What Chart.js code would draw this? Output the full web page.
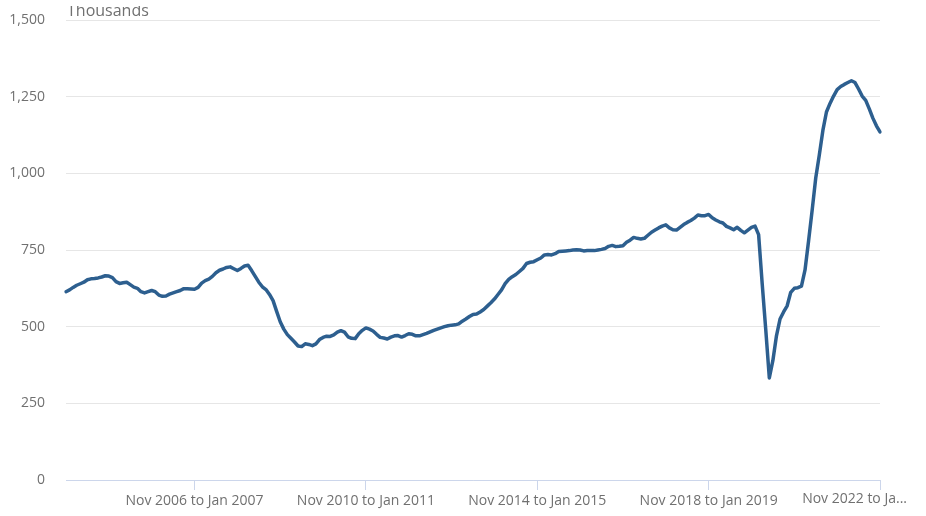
<!DOCTYPE html>
<html>
<head>
<meta charset="utf-8">
<script src="https://cdn.jsdelivr.net/npm/chart.js@4.4.1/dist/chart.umd.min.js"></script>
<style>
  body { margin: 0; background: #fff; }
  #wrap { width: 926px; height: 516px; position: relative; }
</style>
</head>
<body>
<div id="wrap"><canvas id="myChart"></canvas></div>
<script>
'use strict';
// ---------- Data ------------- //
const monthNames = ['Jan', 'Feb', 'Mar', 'Apr', 'May', 'Jun', 'Jul', 'Aug', 'Sep', 'Oct', 'Nov', 'Dec'];
const firstMonth = 10;   // Nov
const firstYear = 2003;
const pointCount = 229;  // Nov 2003 to Jan 2004 ... Nov 2022 to Jan 2023

// vacancies, thousands
const vacancies = [
  614, 620, 628, 635, 640, 645, 653, 656, 657, 659, 662, 666,
  665, 660, 647, 641, 643, 645, 637, 629, 625, 614, 610, 614,
  618, 614, 603, 599, 600, 606, 610, 614, 618, 624, 624, 623,
  622, 628, 642, 650, 655, 664, 676, 684, 688, 693, 695, 689,
  683, 690, 698, 700, 683, 664, 645, 630, 621, 605, 585, 550,
  516, 492, 474, 462, 450, 437, 435, 444, 442, 438, 444, 458,
  465, 469, 468, 473, 482, 487, 482, 467, 462, 461, 477, 488,
  496, 492, 486, 475, 465, 463, 460, 466, 470, 471, 466, 471,
  477, 475, 470, 470, 474, 478, 483, 488, 492, 496, 500, 503,
  505, 506, 509, 518, 525, 533, 540, 541, 548, 556, 567, 578,
  590, 605, 620, 640, 654, 663, 670, 680, 690, 706, 710, 712,
  718, 724, 734, 735, 734, 738, 745, 746, 747, 748, 750, 751,
  750, 747, 748, 748, 748, 750, 752, 755, 762, 765, 761, 762,
  764, 775, 782, 791, 788, 786, 788, 798, 808, 815, 822, 828,
  832, 822, 816, 815, 824, 833, 840, 846, 854, 864, 862, 862,
  866, 855, 848, 842, 838, 827, 822, 816, 824, 814, 806, 815,
  824, 828, 800, 640, 490, 333, 390, 470, 525, 548, 568, 612,
  625, 627, 632, 685, 780, 880, 985, 1060, 1140, 1200, 1228, 1252,
  1273, 1283, 1290, 1296, 1302, 1296, 1275, 1252, 1238, 1210, 1180, 1155,
  1135
];

const yTicks = [0, 250, 500, 750, 1000, 1250, 1500];
const labelEvery = 48;
const firstLabelIndex = 36;
const lastLabelText = 'Nov 2022 to Ja...';
const unitLabel = 'Thousands';

// build the rolling three month period names
let periods = [];
for (let i = 0; i < pointCount; i++) {
    let s = firstMonth + i;
    let e = s + 2;
    let sName = monthNames[s % 12] + ' ' + (firstYear + Math.floor(s / 12));
    let eName = monthNames[e % 12] + ' ' + (firstYear + Math.floor(e / 12));
    periods.push(sName + ' to ' + eName);
}

// ---------- Styles ------------- //
const textColour = '#707070';
const font = { family: '"Open Sans", sans-serif', size: 14 };

// ---------- Plugins ------------- //
const extraText = {
    id: 'extraText',
    afterDraw(chart) {
        let ctx = chart.ctx;
        ctx.save();
        ctx.font = '14px "Open Sans", sans-serif';
        ctx.fillStyle = textColour;
        // truncated last category label
        ctx.textAlign = 'right';
        ctx.textBaseline = 'middle';
        ctx.fillText(lastLabelText, 907, 499);
        // unit label, clipped at the top like the original
        ctx.beginPath();
        ctx.rect(0, 6, chart.width, 20);
        ctx.clip();
        ctx.font = '16px "Open Sans", sans-serif';
        ctx.textAlign = 'left';
        ctx.textBaseline = 'alphabetic';
        ctx.fillText(unitLabel, 67, 16);
        ctx.restore();
    }
};

// ---------- Chart ------------- //
let chartObject = {
    type: 'line',
    data: {
        labels: periods,
        datasets: [{
            label: 'Vacancies',
            data: vacancies,
            borderColor: '#2d5f8f',
            borderWidth: 3.5,
            pointRadius: 0,
            pointHoverRadius: 0,
            tension: 0,
            fill: false,
            borderJoinStyle: 'round',
            borderCapStyle: 'round'
        }]
    },
    options: {
        responsive: true,
        maintainAspectRatio: false,
        animation: false,
        layout: { padding: { top: 20, right: 46, bottom: 0, left: 0 } },
        plugins: {
            legend: { display: false },
            tooltip: { enabled: false }
        },
        scales: {
            x: {
                offset: false,
                grid: {
                    drawOnChartArea: false,
                    drawTicks: true,
                    tickLength: 10,
                    color: '#ccd6eb'
                },
                border: { display: true, color: '#ccd6eb' },
                ticks: {
                    autoSkip: false,
                    maxRotation: 0,
                    minRotation: 0,
                    padding: 3,
                    color: textColour,
                    font: font,
                    callback: function(value, index) {
                        if ((index - firstLabelIndex) % labelEvery !== 0) return null;
                        if (index === pointCount - 1) return '';
                        return periods[index];
                    }
                },
                afterFit: function(scale) { scale.height = 36; }
            },
            y: {
                min: yTicks[0],
                max: yTicks[yTicks.length - 1],
                afterBuildTicks: function(scale) {
                    scale.ticks = yTicks.map(v => ({ value: v }));
                },
                grid: {
                    color: '#e6e6e6',
                    lineWidth: 1,
                    drawTicks: true,
                    tickLength: 21,
                    tickColor: 'rgba(0,0,0,0)'
                },
                border: { display: false },
                ticks: {
                    padding: 0,
                    color: textColour,
                    font: font,
                    callback: function(value) { return value.toLocaleString('en-GB'); }
                },
                afterFit: function(scale) { scale.width = 66; }
            }
        }
    },
    plugins: [extraText]
};

let ctx = document.getElementById('myChart').getContext('2d');
let myChart = new Chart(ctx, chartObject);
</script>
</body>
</html>
